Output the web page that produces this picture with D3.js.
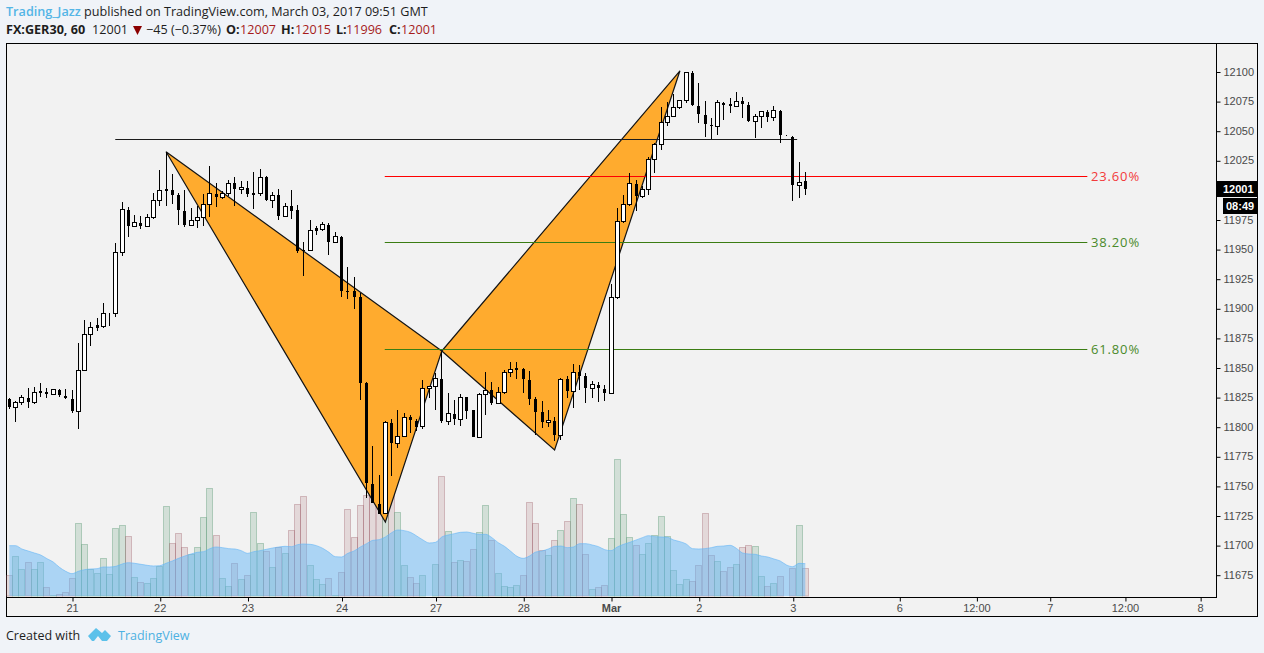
<!DOCTYPE html>
<html><head><meta charset="utf-8">
<script src="https://cdnjs.cloudflare.com/ajax/libs/d3/7.8.5/d3.min.js"></script>
<style>
html,body{margin:0;padding:0;background:#f0f3f8;overflow:hidden}
svg{display:block}
text{font-family:"Liberation Sans",Arial,sans-serif}
.hd text,.hd{font-family:"Open Sans",sans-serif}
</style></head><body><svg id="c" width="1264" height="653"></svg>
<script>
const highs=[11824.0,11822.0,11826.8,11832.7,11833.5,11836.9,11832.7,11831.6,11831.9,11831.9,
11831.0,11870.4,11889.9,11888.2,11891.8,11904.2,11896.3,11954.9,11989.8,11985.3,
11978.8,11978.0,11979.4,11997.4,12016.8,12032.3,12013.4,11997.1,11999.9,11984.5,
11986.7,11996.3,12020.2,12005.6,11999.1,12008.4,12010.7,12007.3,12007.3,12014.9,
12017.7,12011.8,11998.0,12000.8,11988.7,11999.9,11987.3,11955.8,11974.6,11969.8,
11972.6,11971.8,11964.2,11960.8,11934.6,11926.4,11912.7,11837.8,11783.7,11759.2,
11804.6,11806.5,11814.1,11811.3,11809.9,11806.5,11839.5,11834.4,11845.1,11863.4,
11828.7,11822.6,11827.4,11824.8,11813.5,11828.2,11846.0,11838.0,11833.8,11847.9,
11854.4,11854.4,11849.3,11847.3,11825.3,11821.7,11814.1,11808.5,11840.9,11843.1,
11853.0,11852.1,11845.1,11838.6,11837.5,11835.0,11920.5,11984.5,11995.7,12014.0,
12008.4,12003.3,12028.1,12039.6,12069.8,12074.5,12081.0,12075.9,12099.8,12100.4,
12090.0,12074.8,12060.5,12075.7,12074.0,12077.4,12082.4,12078.2,12074.0,12063.9,
12066.9,12067.5,12070.9,12067.2,12046.1,12045.3,12023.3,12015];
const opens=[11823.1,11816.4,11820.6,11824.0,11820.6,11829.9,11829.3,11827.4,11830.8,11825.7,
11823.1,11813.0,11847.6,11878.1,11885.1,11884.5,11895.8,11895.4,11947.0,11983.0,
11968.9,11971.8,11968.9,11976.5,11991.2,12000.5,11999.7,11994.9,11981.9,11969.8,
11974.3,11976.5,11987.8,11996.5,11993.4,11997.1,12005.0,12000.2,12001.4,11997.1,
11996.8,12010.1,11990.9,11994.9,11977.4,11985.6,11982.2,11948.8,11948.7,11967.0,
11966.4,11970.1,11955.4,11960.0,11914.6,11913.8,11908.7,11836.1,11751.6,11734.5,
11726.9,11802.9,11785.7,11791.9,11807.4,11804.8,11800.0,11832.4,11833.8,11840.0,
11804.6,11810.7,11806.3,11824.3,11813.3,11791.1,11827.4,11830.4,11819.8,11829.1,
11846.0,11849.3,11848.7,11839.2,11822.6,11811.6,11803.4,11804.8,11792.4,11839.5,
11829.6,11845.6,11842.0,11832.1,11835.2,11831.6,11828.2,11909.0,11973.2,11987.5,
12004.7,11994.6,12000.5,12025.9,12038.5,12057.1,12062.2,12069.8,12075.7,12098.5,
12070.6,12063.0,12054.8,12053.7,12073.2,12072.1,12070.6,12074.3,12071.5,12058.0,
12061.8,12065.6,12061.3,12066.4,12045.9,12044.4,12003.9,12007];
const closes=[11816.9,11820.3,11824.8,11821.1,11829.1,11828.7,11827.9,11831.3,11826.8,11824.5,
11813.5,11847.6,11878.1,11884.0,11883.4,11895.8,11896.0,11947.3,11983.6,11969.8,
11972.6,11969.8,11976.9,11991.2,11999.7,11999.3,11996.0,11983.3,11970.4,11974.0,
11976.5,11987.8,11997.1,11994.3,11997.1,12005.6,12000.8,12002.2,11996.8,11996.0,
12010.7,11991.5,11995.4,11978.2,11986.2,11983.0,11949.2,11948.4,11965.9,11965.6,
11971.0,11956.3,11960.8,11914.9,11913.8,11909.6,11837.2,11752.7,11735.8,11726.9,
11803.7,11786.5,11791.9,11807.9,11805.9,11799.8,11832.4,11834.1,11840.9,11805.1,
11811.3,11806.8,11824.8,11814.1,11791.6,11827.4,11830.8,11820.3,11829.1,11846.0,
11848.5,11848.2,11840.5,11823.7,11812.7,11804.0,11805.4,11793.0,11840.0,11830.4,
11846.0,11843.1,11832.9,11835.8,11832.9,11828.7,11909.3,11973.2,11987.8,12005.6,
11995.1,12000.5,12025.9,12038.5,12057.1,12062.2,12069.8,12075.7,12099.3,12072.0,
12064.4,12055.9,12054.2,12074.0,12072.3,12071.7,12074.8,12072.8,12058.5,12061.8,
12066.4,12061.8,12066.9,12046.6,12046.0,12004.4,12006.4,12001];
const lows=[11814.7,11804.2,11818.3,11816.1,11818.9,11825.3,11824.5,11826.5,11825.3,11823.4,
11811.8,11797.8,11847.6,11868.4,11881.1,11883.6,11885.3,11892.9,11944.4,11960.5,
11968.9,11967.2,11968.4,11975.7,11986.4,11986.4,11988.1,11970.6,11968.9,11969.8,
11968.1,11969.5,11977.4,11985.8,11992.3,11994.9,11986.7,11996.8,11994.3,11983.9,
11995.1,11990.9,11985.0,11974.6,11977.4,11975.4,11947.0,11927.3,11948.7,11961.7,
11965.6,11945.0,11955.4,11909.6,11907.9,11899.4,11822.6,11739.8,11735.3,11726.9,
11726.3,11758.6,11782.0,11791.6,11794.9,11796.4,11797.8,11824.3,11814.1,11803.4,
11801.7,11801.4,11800.6,11806.8,11791.6,11791.1,11810.1,11818.3,11819.8,11827.6,
11842.2,11840.3,11828.2,11818.3,11793.0,11799.2,11800.0,11788.2,11788.8,11824.3,
11816.1,11831.0,11820.3,11824.0,11820.9,11822.0,11828.2,11907.9,11971.8,11986.7,
11982.4,11992.9,11996.0,12014.5,12033.7,12054.2,12062.2,12068.6,12073.7,12071.1,
12056.8,12044.7,12042.7,12046.4,12059.0,12065.2,12070.6,12060.7,12057.6,12043.8,
12052.3,12057.6,12058.5,12039.9,12045.8,11990.9,11993.4,11996];
const volumes=[63,119,80,101,80,101,26,2,5,11,53,218,155,80,68,113,65,203,212,179,
56,41,38,53,89,269,158,188,146,126,146,236,323,182,53,29,98,50,62,251,
158,134,86,146,128,197,275,299,92,50,35,53,2,71,260,176,272,303,323,273,
243,323,251,92,56,38,62,0,95,359,194,101,107,104,140,191,272,167,68,29,
26,32,62,281,218,137,122,167,197,224,293,275,125,20,26,32,173,410,245,176,
152,125,158,182,239,179,77,35,50,44,92,248,122,104,74,86,95,146,152,149,
59,29,38,59,0,83,212,83];
const volumeAvg=[151,151,141,135,129,123,112,102,86,74,67,74,79,81,82,87,87,89,96,100,
98,95,92,90,91,98,105,113,120,126,131,133,142,147,145,142,141,136,128,133,
136,140,144,147,149,148,154,156,155,151,143,131,118,117,128,135,147,157,167,169,
177,190,198,196,191,180,168,159,161,177,183,187,191,192,188,185,185,175,160,149,
134,119,113,120,132,135,141,149,150,145,147,157,157,153,148,139,136,147,155,161,
168,175,181,178,177,176,168,163,156,142,141,142,145,149,150,152,143,129,126,125,
120,117,111,105,93,88,98,97];
const volumeUpDoji=[5,14,25,39,49,81];
const priceTicks=d3.range(11675,12101,25);
const timeTickIdx=[10,24,38,53,68,82,96,110,125,142,154.3,166,178,190];
const timeTickLabels=["21","22","23","24","27","28","Mar","2","3","6","12:00","7","12:00","8"];
const patternIdx=[[25,60,69],[69,87,107]];
const patternPrice=[[12032.2,11719.5,11863.9],[11863.9,11780.3,12100.6]];
const fibLabels=["23.60%","38.20%","61.80%"];
const fibPrices=[12011.3,11955.6,11865.2];
const fibColors=["#ff0000","#3b7d13","#3b7d13"];
const fibTextColors=["#f23b3b","#4a8a2a","#4a8a2a"];
const fibStartIdx=59.9, fibEndIdx=172;
const resistPrice=12042.6, resistIdx=[16.9,125.7];

const svg=d3.select("#c");
const x=d3.scaleLinear().domain([0,127]).range([9.33,805.3]);
const y=d3.scaleLinear().domain([11675,12100]).range([574.7,71.5]);
const v=d3.scaleLinear().domain([0,410]).range([596,459.3]);
const px=i=>Math.round(x(i)-0.5)+0.5;
const py=p=>Math.round(y(p)-0.5)+0.5;

// panes
svg.append("rect").attr("x",6.5).attr("y",43.5).attr("width",1251).attr("height",573).attr("fill","#f2f2f2").attr("stroke","#000");
svg.append("line").attr("x1",6).attr("x2",1216.5).attr("y1",597.5).attr("y2",597.5).attr("stroke","#000");
svg.append("line").attr("x1",1216.5).attr("x2",1216.5).attr("y1",43).attr("y2",598).attr("stroke","#000");

// volume
const idx=d3.range(highs.length);
const isUp=i=>closes[i]>=opens[i]||volumeUpDoji.includes(i);
svg.append("g").selectAll("rect").data(idx.filter(i=>volumes[i]>0)).join("rect")
 .attr("x",i=>px(i)-3).attr("width",6)
 .attr("y",i=>Math.round(v(volumes[i]))+.5).attr("height",i=>596-Math.round(v(volumes[i]))-.5)
 .attr("fill",i=>isUp(i)?"rgba(107,165,131,.24)":"rgba(150,80,90,.16)")
 .attr("stroke",i=>isUp(i)?"rgba(107,165,131,.45)":"rgba(150,80,90,.32)");
const area=d3.area().x(i=>x(i)).y0(596).y1(i=>v(volumeAvg[i])).curve(d3.curveMonotoneX);
svg.append("path").datum(idx).attr("d",area).attr("fill","rgba(100,181,246,.5)");
svg.append("path").datum(idx).attr("d",d3.line().x(i=>x(i)).y(i=>v(volumeAvg[i])).curve(d3.curveMonotoneX)).attr("fill","none").attr("stroke","rgba(100,181,246,.6)").attr("stroke-width",1);

// pattern
patternIdx.forEach((tri,k)=>{
 svg.append("polygon").attr("points",tri.map((t,j)=>[x(t),y(patternPrice[k][j])].join(",")).join(" "))
  .attr("fill","#ffab2e").attr("stroke","#141414").attr("stroke-width",1.2).attr("stroke-linejoin","miter");
});

// lines
svg.append("line").attr("x1",x(resistIdx[0])).attr("x2",x(resistIdx[1])).attr("y1",py(resistPrice)).attr("y2",py(resistPrice)).attr("stroke","#1c1c1c").attr("stroke-width",1);
fibPrices.forEach((p,k)=>{
 svg.append("line").attr("x1",x(fibStartIdx)).attr("x2",x(fibEndIdx)).attr("y1",py(p)).attr("y2",py(p)).attr("stroke",fibColors[k]).attr("stroke-width",1);
 svg.append("text").attr("x",1091).attr("y",y(p)+4.5).attr("font-size",13).attr("letter-spacing",".85").attr("fill",fibTextColors[k]).style("font-family","'Open Sans',sans-serif").text(fibLabels[k]);
});

// candles
const cg=svg.append("g");
cg.selectAll("line").data(idx).join("line").attr("x1",px).attr("x2",px)
 .attr("y1",i=>Math.round(y(highs[i]))).attr("y2",i=>Math.round(y(lows[i]))).attr("stroke","#000");
const upBody=i=>closes[i]>opens[i];
cg.selectAll("rect").data(idx).join("rect")
 .attr("x",i=>px(i)-(upBody(i)?2:1.5)).attr("width",i=>upBody(i)?4:3)
 .attr("y",i=>py(Math.max(opens[i],closes[i]))-(upBody(i)?0:.5))
 .attr("height",i=>py(Math.min(opens[i],closes[i]))-py(Math.max(opens[i],closes[i]))+(upBody(i)?0:1))
 .attr("fill",i=>upBody(i)?"#fff":"#000").attr("stroke",i=>upBody(i)?"#000":"none");

// price axis
const ay=svg.append("g").attr("transform","translate(1216.5,0)").call(d3.axisRight(y).tickValues(priceTicks).tickSize(4).tickPadding(3).tickFormat(d3.format("d")));
ay.select(".domain").remove();
ay.selectAll("line").attr("stroke","#000").attr("transform","translate(0,.5)");
ay.selectAll("text").attr("font-size",11).attr("fill","#4a4a4a").attr("font-family",null);
// time axis
const ax=svg.append("g").attr("transform","translate(0,597.5)").call(d3.axisBottom(x).tickValues(timeTickIdx).tickSize(4).tickPadding(3).tickFormat((d,i)=>timeTickLabels[i]));
ax.select(".domain").remove();
ax.selectAll("line").attr("stroke","#000").attr("transform","translate(.5,0)");
ax.selectAll("text").attr("font-size",11).attr("fill","#4a4a4a").attr("font-family",null)
  .attr("font-weight",(d,i)=>timeTickLabels[i]==="Mar"?"bold":null);

// last price tags
svg.append("rect").attr("x",1217).attr("y",181).attr("width",40).attr("height",16).attr("fill","#000");
svg.append("text").attr("x",1223).attr("y",193).attr("font-size",11).attr("font-weight","bold").attr("fill","#fff").text("12001");
svg.append("rect").attr("x",1223).attr("y",198).attr("width",34).attr("height",16).attr("fill","#000");
svg.append("text").attr("x",1226).attr("y",210).attr("font-size",11).attr("font-weight","bold").attr("fill","#fff").text("08:49");

// header
const hd=svg.append("g").attr("class","hd").attr("font-size",12.62);
const t1=hd.append("text").attr("x",6).attr("y",16).attr("fill","#1d1d1d");
t1.append("tspan").attr("fill","#53b5e6").attr("font-weight","600").text("Trading_Jazz");
t1.append("tspan").text(" published on TradingView.com, March 03, 2017 09:51 GMT");
const DR="#a61b1b";
[["FX:GER30, 60",6,"#1d1d1d",700],["12001",92,"#1d1d1d",400],["\u221245 (\u22120.37%)",146,"#1d1d1d",400],
 ["O:",226,"#1d1d1d",700],["12007",240,DR,400],["H:",281,"#1d1d1d",700],["12015",295,DR,400],
 ["L:",336,"#1d1d1d",700],["11996",346,DR,400],["C:",389,"#1d1d1d",700],["12001",401,DR,400]]
 .forEach(d=>hd.append("text").attr("x",d[1]).attr("y",34).attr("fill",d[2]).attr("font-weight",d[3]).text(d[0]));
svg.append("path").attr("d","M133,26H142L137.5,35Z").attr("fill","#8b0000");

// footer
svg.append("text").attr("x",6).attr("y",640).attr("font-size",12.5).attr("fill","#1d1d1d").style("font-family","'Open Sans',sans-serif").text("Created with");
svg.append("path").attr("d","M88,636L96,628L102,633L105,630L111,636L107,641H102L98,636L94,641H92Z").attr("fill","#5cc1ea");
svg.append("text").attr("x",118).attr("y",640).attr("font-size",12.5).attr("fill","#4db1e2").style("font-family","'Open Sans',sans-serif").text("TradingView");
</script></body></html>
